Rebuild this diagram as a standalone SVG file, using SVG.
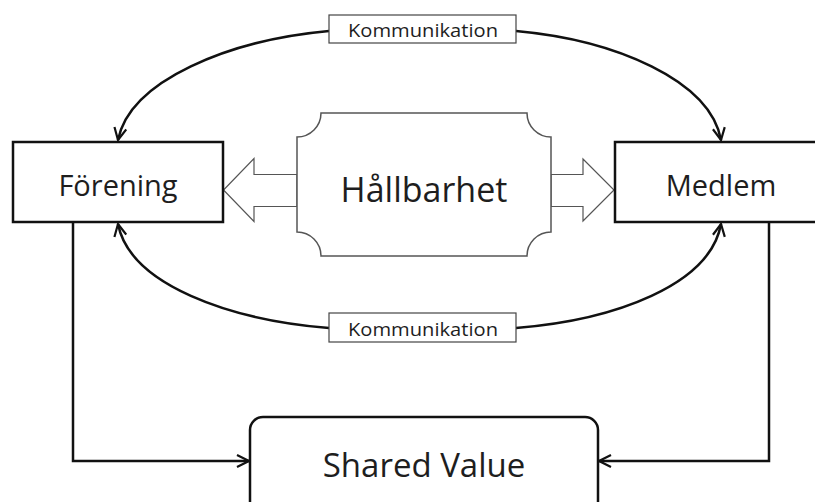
<svg xmlns="http://www.w3.org/2000/svg" width="815" height="502" viewBox="0 0 815 502">
<defs>
<style>
.t{font-family:"Open Sans","Liberation Sans",sans-serif;fill:#1e1e1e;text-anchor:middle}
.box{fill:#fff;stroke:#111;stroke-width:2.5}
.lbl{fill:#fff;stroke:#444;stroke-width:1.2}
.conn{fill:none;stroke:#111;stroke-width:2.5}
.blk{fill:#fff;stroke:#555;stroke-width:1.2}
</style>
<marker id="ah" viewBox="0 0 14 14" refX="13" refY="7" markerWidth="14" markerHeight="14" markerUnits="userSpaceOnUse" orient="auto">
<path d="M1,1 L13,7 L1,13" fill="none" stroke="#111" stroke-width="2.2"/>
</marker>
</defs>
<rect width="815" height="502" fill="#fff"/>
<g id="connectors">
<path class="conn" d="M329,31 C230,40 130,80 118,140" marker-end="url(#ah)"/>
<path class="conn" d="M516,31 C615,40 710,80 721,140" marker-end="url(#ah)"/>
<path class="conn" d="M329,328 C230,320 130,285 118,224" marker-end="url(#ah)"/>
<path class="conn" d="M516,328 C615,320 710,285 721,224" marker-end="url(#ah)"/>
<path class="conn" d="M73,222 V461 H249" marker-end="url(#ah)"/>
<path class="conn" d="M769,222 V461 H599" marker-end="url(#ah)"/>
<polygon class="blk" points="297,174.5 254,174.5 254,158.5 223.5,190 254,221.5 254,206.5 297,206.5"/>
<polygon class="blk" points="551,174.5 583,174.5 583,159 614,190 583,221 583,206.5 551,206.5"/>
</g>
<g id="label-top">
<rect class="lbl" x="329" y="15" width="187" height="28"/>
<text class="t" x="423" y="37" font-size="19" textLength="150" lengthAdjust="spacingAndGlyphs">Kommunikation</text>
</g>
<g id="label-bottom">
<rect class="lbl" x="329" y="313" width="187" height="29"/>
<text class="t" x="423" y="336" font-size="19" textLength="150" lengthAdjust="spacingAndGlyphs">Kommunikation</text>
</g>
<g id="forening">
<rect class="box" x="13" y="142" width="210" height="80"/>
<text class="t" x="118" y="196" font-size="29">Förening</text>
</g>
<g id="medlem">
<rect class="box" x="615" y="142" width="215" height="80"/>
<text class="t" x="721" y="196" font-size="29">Medlem</text>
</g>
<g id="hallbarhet">
<path d="M321,113 H527 A24,24 0 0 0 551,137 V232 A24,24 0 0 0 527,256 H321 A24,24 0 0 0 297,232 V137 A24,24 0 0 0 321,113 Z" fill="#fff" stroke="#555" stroke-width="1.5"/>
<text class="t" x="424" y="202" font-size="34">Hållbarhet</text>
</g>
<g id="shared-value">
<rect class="box" x="250" y="417" width="348" height="100" rx="13"/>
<text class="t" x="424" y="477" font-size="33">Shared Value</text>
</g>
</svg>
